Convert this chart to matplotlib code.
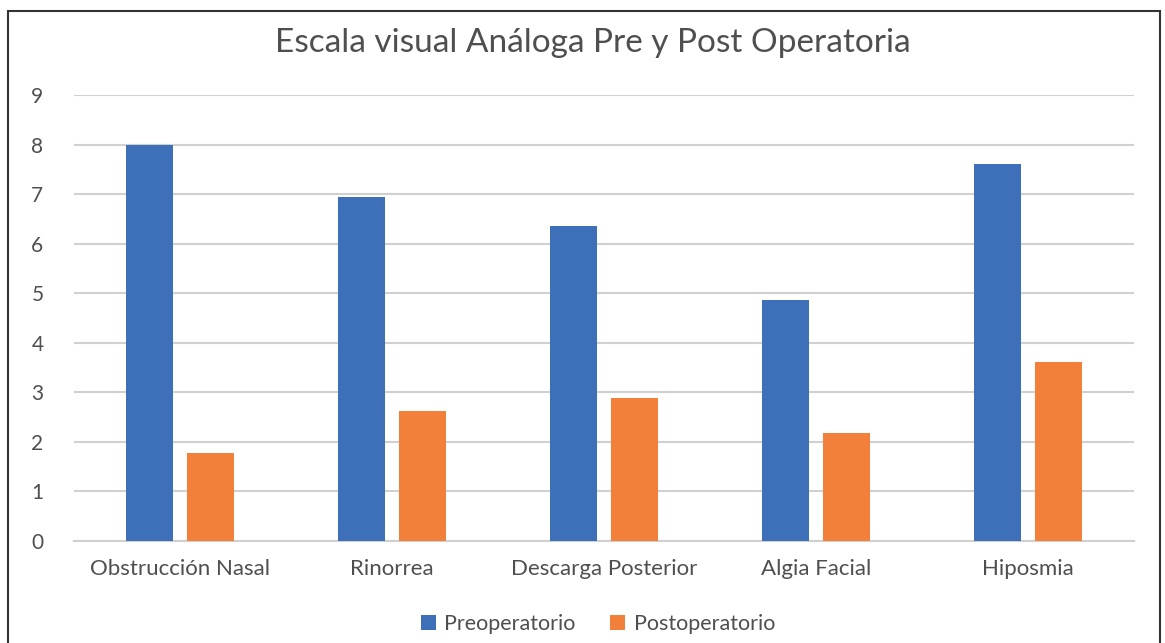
import numpy as np
import matplotlib.pyplot as plt
from matplotlib.patches import Rectangle

categorias = ["Obstrucción Nasal", "Rinorrea", "Descarga Posterior", "Algia Facial", "Hiposmia"]
preoperatorio = [8.0, 6.95, 6.36, 4.86, 7.61]
postoperatorio = [1.77, 2.62, 2.89, 2.18, 3.61]
series = ["Preoperatorio", "Postoperatorio"]

azul = "#3D70B9"
naranja = "#F2803A"
gris_texto = "#4F4F4F"

plt.rcParams['font.family'] = ['Lato', 'DejaVu Sans']

fig = plt.figure(figsize=(11.65, 6.43), dpi=100)
ax = fig.add_axes([74 / 1165, 1 - 541 / 643, (1134 - 74) / 1165, (541 - 95) / 643])

x = np.arange(len(categorias))
ancho = 0.222
ax.bar(x - 0.142, preoperatorio, ancho, color=azul, label=series[0], zorder=3)
ax.bar(x + 0.142, postoperatorio, ancho, color=naranja, label=series[1], zorder=3)

ax.set_xlim(-0.5, len(categorias) - 0.5)
ax.set_ylim(0, 9)
ax.set_yticks(range(10))
ax.yaxis.grid(True, color="#D0D0D0", linewidth=1.5, zorder=0)
ax.set_xticks(x)
ax.set_xticklabels(categorias)
ax.tick_params(axis='both', length=0, colors=gris_texto)
ax.tick_params(axis='x', labelsize=16, pad=13)
ax.tick_params(axis='y', labelsize=15, pad=22)
for s in ["top", "right", "left"]:
    ax.spines[s].set_visible(False)
ax.spines["bottom"].set_color("#D0D0D0")
ax.spines["bottom"].set_linewidth(1.5)

fig.text(593 / 1165, 1 - 43 / 643, "Escala visual Análoga Pre y Post Operatoria",
         ha='center', va='center', fontsize=24, color=gris_texto)

leg = fig.legend(loc='center', bbox_to_anchor=(598 / 1165, 1 - 624 / 643), ncol=2, frameon=False,
                 fontsize=15.5, handlelength=0.7, handleheight=0.7, handletextpad=0.4,
                 columnspacing=1.6)
for t in leg.get_texts():
    t.set_color(gris_texto)

fig.patches.append(Rectangle((8 / 1165, -0.05), (1160 - 8) / 1165, 1.05 - 11 / 643,
                             transform=fig.transFigure, fill=False,
                             edgecolor="#333333", linewidth=1.5))

fig.savefig("out.png", dpi=100)
